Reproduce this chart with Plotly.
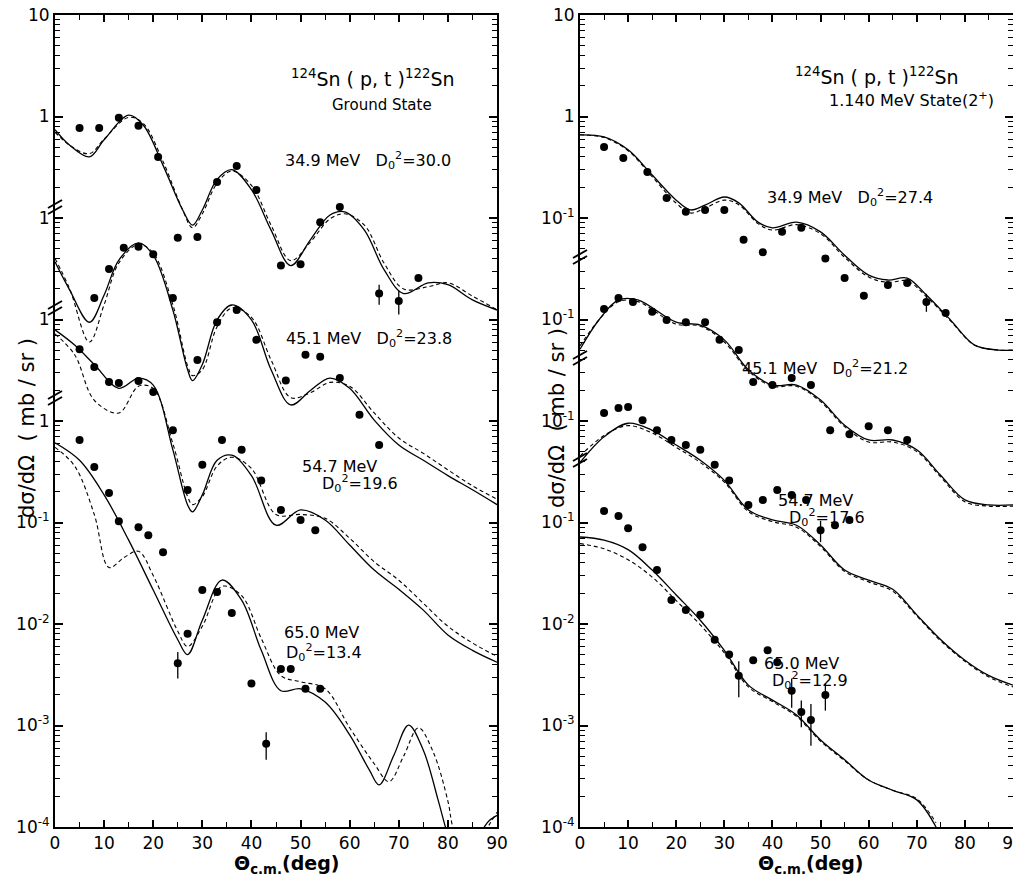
import plotly.graph_objects as go

# ---------------- data (true cross sections, mb/sr) ----------------
# Each energy is drawn shifted by a decade factor, as in the original figure
energies = ["34.9", "45.1", "54.7", "65.0"]
shift = [1.0, 0.1, 0.01, 0.001]

# ---- Left panel: ground state ----
gs_d02 = ["30.0", "23.8", "19.6", "13.4"]

gs_sol_th = [
    [0, 3, 7, 10, 15, 18, 22, 26, 28, 30, 33, 36, 40, 44, 48, 52, 56, 59, 63, 67, 71, 76, 80, 85, 90],
    [0, 3, 7, 10, 13, 17, 20, 24, 27, 28, 30, 33, 36, 40, 44, 48, 52, 56, 60, 65, 70, 75, 80, 85, 90],
    [0, 4, 8, 13, 17, 20, 24, 27, 28, 30, 33, 36, 40, 45, 50, 55, 60, 65, 70, 75, 80, 85, 90],
    [0, 5, 10, 15, 20, 25, 27, 30, 34, 38, 42, 46, 50, 55, 60, 64, 66, 69, 72, 75, 78, 79.5,
     82, 84, 86, 88, 90],
]
gs_sol_y = [
    [0.74, 0.52, 0.40, 0.59, 1.03, 0.82, 0.33, 0.12, 0.085, 0.12, 0.24, 0.30, 0.19, 0.076, 0.034,
     0.061, 0.107, 0.115, 0.076, 0.031, 0.018, 0.023, 0.022, 0.0156, 0.0124],
    [0.37, 0.195, 0.094, 0.174, 0.385, 0.57, 0.43, 0.124, 0.032, 0.025, 0.036, 0.099, 0.139, 0.099,
     0.032, 0.0144, 0.020, 0.0265, 0.021, 0.0102, 0.0058, 0.0041, 0.0029, 0.0021, 0.0015],
    [0.79, 0.56, 0.36, 0.21, 0.265, 0.226, 0.052, 0.0149, 0.0127, 0.0187, 0.041, 0.046, 0.029,
     0.0094, 0.0133, 0.0106, 0.0060, 0.0034, 0.0022, 0.00137, 0.00078, 0.00055, 0.00042],
    [0.61, 0.41, 0.187, 0.067, 0.0216, 0.0070, 0.0050, 0.0109, 0.0271, 0.0172, 0.0055, 0.0022,
     0.0023, 0.0017, 0.00081, 0.000365, 0.00026, 0.00051, 0.00101, 0.00057, 0.000185, 0.0001,
     0.00004, 0.00003, 0.00007, 0.00011, 0.00013],
]
gs_das_th = [
    gs_sol_th[0],
    gs_sol_th[1],
    gs_sol_th[2],
    [0, 4, 8, 11, 14, 17, 20, 25, 27, 30, 34, 38, 42, 46, 50, 55, 60, 65, 68, 71, 74, 77, 80, 81,
     84, 87, 90],
]
gs_das_y = [
    [0.70, 0.52, 0.43, 0.60, 0.98, 0.85, 0.36, 0.12, 0.080, 0.11, 0.22, 0.29, 0.21, 0.085, 0.038,
     0.058, 0.098, 0.110, 0.085, 0.036, 0.020, 0.021, 0.023, 0.017, 0.0125],
    [0.40, 0.20, 0.060, 0.14, 0.36, 0.55, 0.45, 0.14, 0.035, 0.028, 0.032, 0.085, 0.130, 0.105,
     0.040, 0.017, 0.019, 0.024, 0.022, 0.012, 0.0068, 0.0048, 0.0033, 0.0023, 0.0017],
    [0.72, 0.45, 0.16, 0.12, 0.22, 0.21, 0.060, 0.018, 0.015, 0.018, 0.036, 0.044, 0.034,
     0.012, 0.012, 0.011, 0.0070, 0.0041, 0.0027, 0.0016, 0.00095, 0.00065, 0.00048],
    [0.55, 0.36, 0.12, 0.036, 0.045, 0.052, 0.030, 0.0085, 0.0060, 0.0095, 0.0235, 0.0190,
     0.0072, 0.0031, 0.0027, 0.0023, 0.00095, 0.00042, 0.00028, 0.00050, 0.00095, 0.00055,
     0.00018, 0.0001, 0.00004, 0.00008, 0.00014],
]
gs_pt_th = [
    [5, 9, 13, 17, 21, 25, 29, 33, 37, 41, 46, 50, 54, 58, 66, 70, 74],
    [8, 11, 14, 17, 20, 24, 29, 33, 37, 41, 47, 51, 54, 58, 62, 66],
    [5, 8, 11, 13, 17, 20, 24, 27, 30, 34, 38, 42, 46, 50, 53],
    [5, 8, 11, 13, 17, 19, 22, 25, 27, 30, 33, 36, 40, 43, 46, 48, 51, 54],
]
gs_pt_y = [
    [0.77, 0.77, 0.97, 0.81, 0.40, 0.064, 0.065, 0.226, 0.325, 0.189, 0.034, 0.035, 0.091, 0.128,
     0.018, 0.0152, 0.0256],
    [0.163, 0.315, 0.51, 0.52, 0.44, 0.163, 0.040, 0.094, 0.124, 0.063, 0.025, 0.045, 0.043,
     0.0265, 0.0115, 0.0058],
    [0.51, 0.34, 0.242, 0.237, 0.248, 0.193, 0.081, 0.0209, 0.037, 0.065, 0.052, 0.026, 0.0133,
     0.0106, 0.0084],
    [0.65, 0.352, 0.195, 0.103, 0.090, 0.075, 0.051, 0.0041, 0.0080, 0.0216, 0.0207, 0.0128,
     0.0026, 0.00066, 0.0036, 0.0036, 0.0023, 0.0023],
]
gs_pt_err = [
    [0, 0, 0, 0, 0, 0, 0, 0, 0, 0, 0, 0, 0, 0, 0.004, 0.004, 0],
    [0] * 16,
    [0] * 15,
    [0, 0, 0, 0, 0, 0, 0, 0.0012, 0, 0, 0, 0, 0, 0.0002, 0, 0, 0, 0],
]

# ---- Right panel: 1.140 MeV 2+ state ----
ex_d02 = ["27.4", "21.2", "17.6", "12.9"]

ex_sol_th = [
    [0, 5, 10, 15, 20, 23, 26, 30, 33, 37, 40, 45, 50, 55, 60, 64, 68, 72, 77, 82, 87, 90],
    [0, 4, 8, 12, 20, 25, 30, 35, 40, 45, 50, 55, 60, 65, 70, 75, 80, 85, 90],
    [0, 5, 10, 15, 20, 25, 30, 35, 40, 45, 50, 55, 60, 65, 70, 75, 80, 85, 90],
    [0, 5, 10, 15, 20, 25, 30, 35, 40, 45, 50, 55, 60, 65, 70, 74],
]
ex_sol_y = [
    [0.66, 0.63, 0.47, 0.265, 0.150, 0.120, 0.134, 0.161, 0.141, 0.091, 0.080, 0.091, 0.073,
     0.043, 0.0274, 0.0245, 0.0256, 0.0174, 0.0099, 0.0056, 0.0050, 0.0050],
    [0.051, 0.10, 0.156, 0.156, 0.094, 0.088, 0.063, 0.032, 0.0226, 0.0226, 0.0161, 0.0091,
     0.0065, 0.0065, 0.0052, 0.0029, 0.00167, 0.00149, 0.00149],
    [0.039, 0.070, 0.095, 0.081, 0.058, 0.041, 0.026, 0.0133, 0.0106, 0.0094, 0.0060, 0.0034,
     0.0027, 0.0022, 0.00123, 0.00070, 0.00044, 0.00031, 0.00025],
    [0.072, 0.067, 0.054, 0.034, 0.0193, 0.0109, 0.0055, 0.0025, 0.00178, 0.00127, 0.00072,
     0.00046, 0.00029, 0.00023, 0.000185, 0.0001],
]
ex_das_th = ex_sol_th
ex_das_y = [
    [0.66, 0.62, 0.46, 0.255, 0.140, 0.112, 0.125, 0.150, 0.135, 0.088, 0.076, 0.086, 0.070,
     0.041, 0.0262, 0.0232, 0.0240, 0.0168, 0.0097, 0.0056, 0.0050, 0.0050],
    [0.055, 0.10, 0.150, 0.150, 0.090, 0.086, 0.060, 0.031, 0.0220, 0.0220, 0.0155, 0.0088,
     0.0062, 0.0062, 0.0050, 0.0028, 0.00160, 0.00145, 0.00145],
    [0.045, 0.072, 0.090, 0.076, 0.055, 0.039, 0.025, 0.0128, 0.0102, 0.0090, 0.0058, 0.0033,
     0.0026, 0.0021, 0.00120, 0.00068, 0.00043, 0.00030, 0.00024],
    [0.062, 0.055, 0.043, 0.029, 0.0170, 0.0098, 0.0052, 0.0024, 0.00172, 0.00123, 0.00070,
     0.00045, 0.00029, 0.00023, 0.000190, 0.00011],
]
ex_pt_th = [
    [5, 9, 14, 18, 22, 26, 30, 34, 38, 42, 46, 51, 55, 59, 64, 68, 72, 76],
    [5, 8, 11, 15, 18, 22, 26, 29, 33, 36, 40, 44, 48, 52, 56, 60, 64, 68],
    [5, 8, 10, 13, 16, 19, 22, 25, 28, 31, 35, 38, 41, 44, 47, 50, 53, 56],
    [5, 8, 10, 13, 16, 19, 22, 25, 28, 31, 33, 36, 39, 41, 44, 46, 48, 51],
]
ex_pt_y = [
    [0.50, 0.39, 0.284, 0.157, 0.115, 0.120, 0.120, 0.061, 0.046, 0.073, 0.080, 0.040, 0.0256,
     0.0171, 0.0219, 0.0229, 0.0149, 0.0116],
    [0.127, 0.163, 0.149, 0.119, 0.099, 0.094, 0.094, 0.063, 0.050, 0.0242, 0.0226, 0.0265,
     0.0226, 0.0081, 0.0074, 0.0089, 0.0081, 0.0065],
    [0.120, 0.134, 0.137, 0.102, 0.081, 0.065, 0.058, 0.052, 0.037, 0.026, 0.0149, 0.0167,
     0.0209, 0.0187, 0.0167, 0.0084, 0.0094, 0.0106],
    [0.130, 0.116, 0.088, 0.057, 0.034, 0.0172, 0.0137, 0.0123, 0.0070, 0.0050, 0.0031, 0.0044,
     0.0055, 0.0042, 0.0022, 0.00136, 0.00113, 0.0020],
]
ex_pt_err = [
    [0] * 16 + [0.003, 0],
    [0] * 18,
    [0] * 15 + [0.002, 0, 0],
    [0] * 10 + [0.0012, 0, 0, 0, 0.0007, 0.0004, 0.0005, 0.0006],
]

# ---------------- layout helpers ----------------
W, H = 1021, 877
OFF = 8  # the page body adds an 8 px margin around the figure


def px(x):
    return (x - OFF) / W


def py(y):
    return 1 - (y - OFF) / H


XL = (px(55), px(497))
XR = (px(580), px(1013))
YD = (py(827), py(15))
FONT = "DejaVu Sans"

fig = go.Figure()


def add_panel(xa, ya, sol_th, sol_y, das_th, das_y, pt_th, pt_y, pt_err):
    for i in range(4):
        s = shift[i]
        fig.add_trace(go.Scatter(
            x=sol_th[i], y=[v * s for v in sol_y[i]], mode="lines",
            line=dict(color="black", width=1.3, shape="spline", smoothing=1.0),
            xaxis=xa, yaxis=ya, showlegend=False, hoverinfo="skip"))
        fig.add_trace(go.Scatter(
            x=das_th[i], y=[v * s for v in das_y[i]], mode="lines",
            line=dict(color="black", width=1.1, dash="4px,3px", shape="spline", smoothing=1.0),
            xaxis=xa, yaxis=ya, showlegend=False, hoverinfo="skip"))
        fig.add_trace(go.Scatter(
            x=pt_th[i], y=[v * s for v in pt_y[i]], mode="markers",
            marker=dict(color="black", size=8),
            error_y=dict(type="data", array=[e * s for e in pt_err[i]], visible=True,
                         color="black", thickness=1.3, width=0),
            xaxis=xa, yaxis=ya, showlegend=False))


add_panel("x", "y", gs_sol_th, gs_sol_y, gs_das_th, gs_das_y, gs_pt_th, gs_pt_y, gs_pt_err)
add_panel("x2", "y2", ex_sol_th, ex_sol_y, ex_das_th, ex_das_y, ex_pt_th, ex_pt_y, ex_pt_err)

# ---------------- axes ----------------
major_vals = [10 ** k for k in range(1, -8, -1)]
minor_vals = [m * 10 ** k for k in range(-7, 1) for m in range(2, 10)]
left_labels = ["10", "1", "1", "1", "1", "10<sup>-1</sup>", "10<sup>-2</sup>",
               "10<sup>-3</sup>", "10<sup>-4</sup>"]
right_labels = ["10", "1", "10<sup>-1</sup>", "10<sup>-1</sup>", "10<sup>-1</sup>",
                "10<sup>-1</sup>", "10<sup>-2</sup>", "10<sup>-3</sup>", "10<sup>-4</sup>"]

xcommon = dict(range=[0, 90], tickmode="linear", tick0=0, dtick=10, ticks="inside", ticklen=7,
               tickwidth=1.5, tickcolor="black", showline=True, linecolor="black", linewidth=2,
               mirror="ticks", showgrid=False, zeroline=False, automargin=False,
               ticklabeloverflow="allow",
               tickfont=dict(family=FONT, size=17, color="black"),
               minor=dict(dtick=5, tick0=0, ticks="inside", ticklen=5, tickwidth=1.2,
                          tickcolor="black"))
ycommon = dict(type="log", range=[-7, 1], domain=list(YD), tickmode="array", tickvals=major_vals,
               ticks="inside", ticklen=8, tickwidth=1.5, tickcolor="black", showline=True,
               linecolor="black", linewidth=2, mirror="ticks", showgrid=False, zeroline=False,
               automargin=False, ticklabeloverflow="allow",
               tickfont=dict(family=FONT, size=17, color="black"),
               minor=dict(tickmode="array", tickvals=minor_vals, ticks="inside", ticklen=5,
                          tickwidth=1.2, tickcolor="black"))

fig.update_layout(
    width=W, height=H, margin=dict(l=0, r=0, t=0, b=0, autoexpand=False),
    paper_bgcolor="white", plot_bgcolor="white", showlegend=False,
    xaxis=dict(domain=list(XL), anchor="y", **xcommon),
    xaxis2=dict(domain=list(XR), anchor="y2", **xcommon),
    yaxis=dict(anchor="x", ticktext=left_labels, **ycommon),
    yaxis2=dict(anchor="x2", ticktext=right_labels, **ycommon),
)

# ---------------- axis breaks ----------------
for xb, ys in [(55, [207, 308, 398]), (580, [257, 358, 460])]:
    for yb in ys:
        for d in (-3, 3):
            fig.add_shape(type="line", xref="paper", yref="paper",
                          x0=px(xb - 7), y0=py(yb + d + 4), x1=px(xb + 7), y1=py(yb + d - 4),
                          line=dict(color="black", width=2))

# ---------------- text ----------------
ann = []


def txt(x, y, s, size=15, anchor="left", weight="normal"):
    ann.append(dict(x=px(x), y=py(y), xref="paper", yref="paper", text=s, showarrow=False,
                    xanchor=anchor, yanchor="middle",
                    font=dict(family=FONT, size=size, color="black", weight=weight)))


react = "<sup>124</sup>Sn ( p, t )<sup>122</sup>Sn"
txt(373, 78, react, 19, "center")
txt(382, 105, "Ground State", 15, "center")
txt(877, 76, react, 19, "center")
txt(911, 99, "1.140 MeV State(2<sup>+</sup>)", 16, "center")

gs_lab = [(283, 160, None), (284, 338, None), (300, 466, 320, 483), (282, 632, 284, 652)]
ex_lab = [(765, 197, None), (740, 368, None), (776, 500, 787, 517), (762, 663, 770, 680)]
for labs, d02 in ((gs_lab, gs_d02), (ex_lab, ex_d02)):
    for i, lab in enumerate(labs):
        if lab[2] is None:
            txt(lab[0], lab[1], f"{energies[i]} MeV   D<sub>0</sub><sup>2</sup>={d02[i]}", 16)
        else:
            txt(lab[0], lab[1], f"{energies[i]} MeV", 16)
            txt(lab[2], lab[3], f"D<sub>0</sub><sup>2</sup>={d02[i]}", 16)

for xc in (286, 810):
    txt(xc, 864, "Θ<sub>c.m.</sub>(deg)", 19, "center", "bold")
for xc, yc in ((27, 428), (557, 418)):
    ann.append(dict(x=px(xc), y=py(yc), xref="paper", yref="paper",
                    text="dσ/dΩ  ( mb / sr )", showarrow=False, textangle=-90,
                    xanchor="center", yanchor="middle",
                    font=dict(family=FONT, size=21, color="black")))

fig.update_layout(annotations=ann)
fig.write_html("out.html")
